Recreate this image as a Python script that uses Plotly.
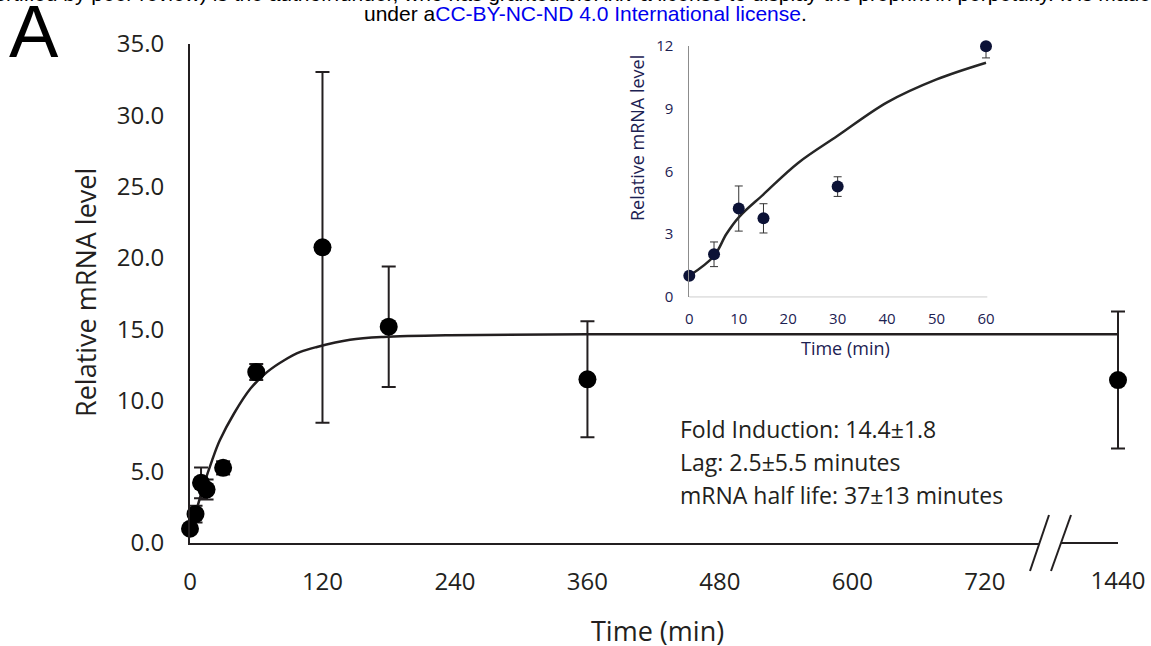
import plotly.graph_objects as go

# ---------------- data ----------------
times = [0, 5, 10, 15, 30, 60, 120, 180, 360, 1440]
mean_level = [1.0, 2.03, 4.22, 3.75, 5.27, 11.99, 20.74, 15.17, 11.48, 11.43]
err_level = [0.0, 0.59, 1.08, 0.70, 0.47, 0.56, 12.3, 4.23, 4.07, 4.8]

fit_time_main = [0, 5, 12, 20, 27, 40, 55, 70, 85, 100, 115, 145, 175, 235, 360, 720, 1440]
fit_level_main = [1.0, 2.1, 3.95, 5.8, 7.2, 9.1, 10.85, 12.0, 12.8, 13.4, 13.75, 14.25,
                  14.45, 14.58, 14.65, 14.65, 14.65]

fit_time_inset = [0, 5, 7.5, 10, 15, 22, 30, 40, 50, 60]
fit_level_inset = [1.0, 1.95, 3.0, 3.8, 4.9, 6.4, 7.7, 9.3, 10.4, 11.2]

main_xticks = [0, 120, 240, 360, 480, 600, 720]
late_xticks = [1440]
main_yticks = [0, 5, 10, 15, 20, 25, 30, 35]
inset_xticks = [0, 10, 20, 30, 40, 50, 60]
inset_yticks = [0, 3, 6, 9, 12]

stats_lines = ["Fold Induction: 14.4\u00b11.8",
               "Lag: 2.5\u00b15.5 minutes",
               "mRNA half life: 37\u00b113 minutes"]

# ---------------- layout helpers ----------------
W, H = 1151, 646
L, R, T, B = 190, 25, 44, 103
PW, PH = W - L - R, H - T - B


def px(x):
    return (x - L) / PW


def py(y):
    return (H - B - y) / PH


TXT = "#231f20"
NAVY = "#1c2152"
GREY = "#8c8c8c"
FONT = "Open Sans"

scale = 1.104          # px per minute on the main axis
brk = 1040             # pixel where the axis is broken
axis_end = 1118        # pixel where the bottom axis line ends (at 1440 min)
d1 = px(brk)
r1 = (brk - L) / scale
r2_lo = 1440 - (axis_end - brk) / scale
r2_hi = 1440 + (L + PW - axis_end) / scale

inset_scale = 4.945
inset_x0 = 689.3
inset_right = 995
inset_range_hi = (inset_right - inset_x0) / inset_scale

early = [i for i, t in enumerate(times) if t <= 720]
late = [i for i, t in enumerate(times) if t > 720]
inset_idx = [i for i, t in enumerate(times) if t <= 60]

fig = go.Figure()

# fitted curve on both pieces of the broken axis
for xa in ("x", "x2"):
    fig.add_trace(go.Scatter(x=fit_time_main, y=fit_level_main, mode="lines",
                             line=dict(color=TXT, width=2.5, shape="spline"),
                             xaxis=xa, yaxis="y", hoverinfo="skip", showlegend=False))

for xa, idx in (("x", early), ("x2", late)):
    fig.add_trace(go.Scatter(
        x=[times[i] for i in idx], y=[mean_level[i] for i in idx], mode="markers",
        marker=dict(color="black", size=18),
        error_y=dict(type="data", array=[err_level[i] for i in idx], color=TXT,
                     thickness=2, width=7),
        xaxis=xa, yaxis="y", cliponaxis=False, showlegend=False))

# inset
fig.add_trace(go.Scatter(x=fit_time_inset, y=fit_level_inset, mode="lines",
                         line=dict(color="#262626", width=2.5, shape="spline"),
                         xaxis="x3", yaxis="y3", showlegend=False))
fig.add_trace(go.Scatter(
    x=[times[i] for i in inset_idx], y=[mean_level[i] for i in inset_idx], mode="markers",
    marker=dict(color="#0c1236", size=12),
    error_y=dict(type="data", array=[err_level[i] for i in inset_idx], color="#333333",
                 thickness=1, width=4),
    xaxis="x3", yaxis="y3", cliponaxis=False, showlegend=False))

axis_common = dict(showgrid=False, zeroline=False, ticks="", automargin=False)

fig.update_layout(
    width=W, height=H, margin=dict(l=L, r=R, t=T, b=B),
    paper_bgcolor="white", plot_bgcolor="white",
    font=dict(family=FONT, color=TXT),
    xaxis=dict(domain=[0, d1], range=[0, r1], tickvals=main_xticks, showline=True,
               linecolor=TXT, linewidth=2, anchor="y",
               tickfont=dict(size=24, color=TXT), ticklabelstandoff=16, **axis_common),
    xaxis2=dict(domain=[d1, 1], range=[r2_lo, r2_hi], tickvals=late_xticks, showline=False,
                anchor="y",
                tickfont=dict(size=24, color=TXT), ticklabelstandoff=21, **axis_common),
    yaxis=dict(domain=[0, 1], range=[0, 35], tickvals=main_yticks, tickformat=".1f",
               showline=True, linecolor=TXT, linewidth=2, anchor="x",
               tickfont=dict(size=24, color=TXT), ticklabelstandoff=19, **axis_common),
    xaxis3=dict(domain=[px(inset_x0), px(inset_right)], range=[0, inset_range_hi],
                tickvals=inset_xticks, showline=False, anchor="y3",
                tickfont=dict(size=15, color=NAVY), ticklabelstandoff=11, **axis_common),
    yaxis3=dict(domain=[py(296.7), py(46)], range=[0, 12], tickvals=inset_yticks,
                showline=True, linecolor=GREY, linewidth=1, anchor="x3",
                tickfont=dict(size=15, color=NAVY), ticklabelstandoff=12, **axis_common),
)

ann = []
# axis titles
ann.append(dict(text="Time (min)", x=px(657), y=py(630), xref="paper", yref="paper",
                xanchor="center", yanchor="middle", showarrow=False,
                font=dict(size=27, color=TXT)))
ann.append(dict(text="Relative mRNA level", x=px(85), y=py(293), xref="paper", yref="paper",
                xanchor="center", yanchor="middle", textangle=-90, showarrow=False,
                font=dict(size=27, color=TXT)))
ann.append(dict(text="Time (min)", x=px(845), y=py(348), xref="paper", yref="paper",
                xanchor="center", yanchor="middle", showarrow=False,
                font=dict(size=18, color=NAVY)))
ann.append(dict(text="Relative mRNA level", x=px(637), y=py(138), xref="paper", yref="paper",
                xanchor="center", yanchor="middle", textangle=-90, showarrow=False,
                font=dict(size=18, color=NAVY)))
# stats text
for k, line in enumerate(stats_lines):
    ann.append(dict(text=line, x=px(678), y=py(429 + 33 * k), xref="paper", yref="paper",
                    xanchor="left", yanchor="middle", showarrow=False,
                    font=dict(size=23, color=TXT)))
# panel letter
ann.append(dict(text="A", x=px(34), y=py(31), xref="paper", yref="paper",
                xanchor="center", yanchor="middle", showarrow=False,
                font=dict(family="Liberation Sans, Arial", size=74, color="black")))
# preprint header
ann.append(dict(text="The copyright holder for this preprint (which was not certified by peer review) "
                     "is the author/funder, who has granted bioRxiv a license to display the "
                     "preprint in perpetuity. It is made",
                x=px(1153), y=py(-7), xref="paper", yref="paper",
                xanchor="right", yanchor="middle", showarrow=False,
                font=dict(family="Liberation Sans, Arial", size=21, color="black")))
ann.append(dict(text="under a<span style='color:#0000ee'>CC-BY-NC-ND 4.0 International license</span>.",
                x=px(585), y=py(13), xref="paper", yref="paper",
                xanchor="center", yanchor="middle", showarrow=False,
                font=dict(family="Liberation Sans, Arial", size=21, color="black")))
fig.update_layout(annotations=ann)

# axis lines drawn as shapes where the axis range is padded for the error-bar caps
shapes = [
    dict(type="line", xref="paper", yref="paper", x0=px(brk), x1=px(axis_end),
         y0=0, y1=0, line=dict(color=TXT, width=2), layer="above"),
    dict(type="line", xref="paper", yref="paper", x0=px(inset_x0), x1=px(987.3),
         y0=py(296.7), y1=py(296.7), line=dict(color=GREY, width=1), layer="below"),
]
# axis break marks
s1 = [(1049, 515), (1030, 571)]
s2 = [(1071, 515), (1051, 571)]
path = "M {} {} L {} {} L {} {} L {} {} Z".format(
    px(s1[0][0]), py(s1[0][1]), px(s2[0][0]), py(s2[0][1]),
    px(s2[1][0]), py(s2[1][1]), px(s1[1][0]), py(s1[1][1]))
shapes.append(dict(type="path", path=path, xref="paper", yref="paper",
                   fillcolor="white", line=dict(width=0), layer="above"))
for s in (s1, s2):
    shapes.append(dict(type="line", xref="paper", yref="paper",
                       x0=px(s[0][0]), y0=py(s[0][1]), x1=px(s[1][0]), y1=py(s[1][1]),
                       line=dict(color=TXT, width=2), layer="above"))
fig.update_layout(shapes=shapes)

fig.write_html("out.html")
